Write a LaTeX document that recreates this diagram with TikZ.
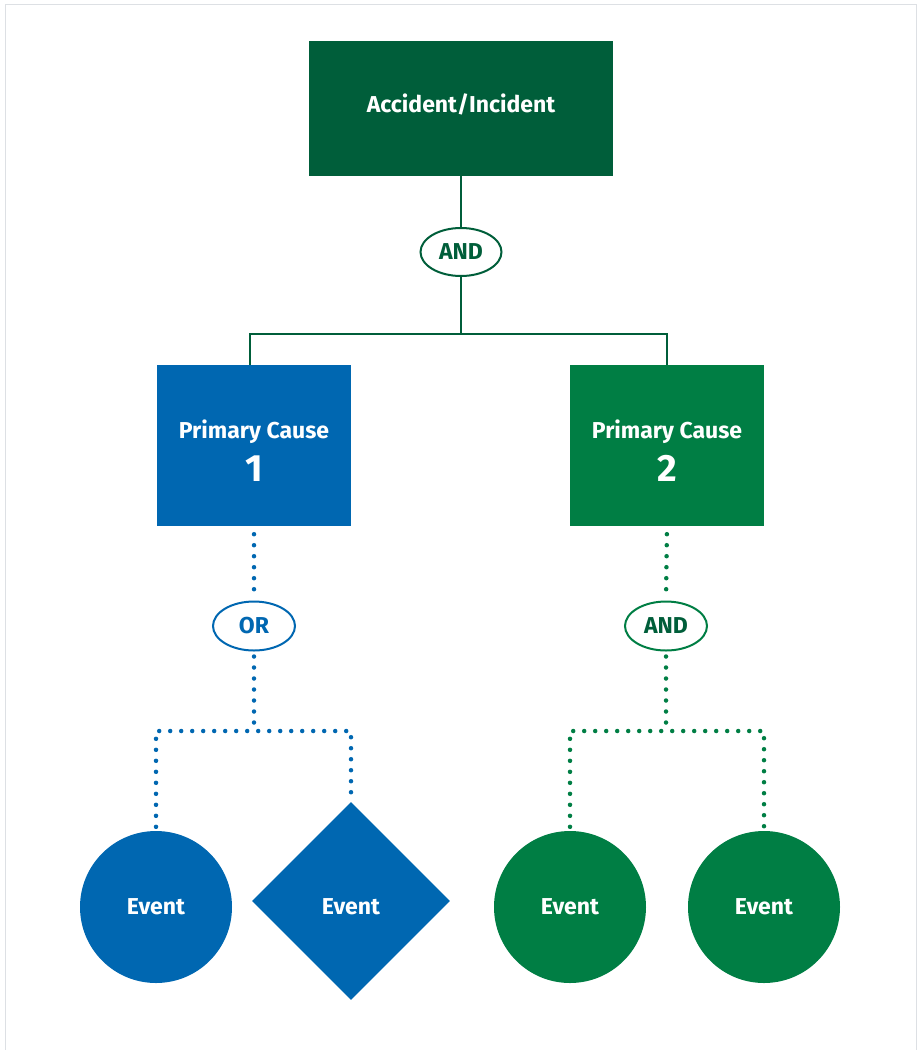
\documentclass[tikz,border=0pt]{standalone}
\usepackage{fontspec}
\setmainfont{Fira Sans}
\usetikzlibrary{shapes.geometric}
\definecolor{darkgreen}{HTML}{005E3A}
\definecolor{causeblue}{HTML}{0067B1}
\definecolor{causegreen}{HTML}{007E44}
\definecolor{framegray}{HTML}{DDE0E4}

\begin{document}
\begin{tikzpicture}[x=1pt,y=-1pt,
  box/.style={rectangle, inner sep=0pt},
  boxtext/.style={anchor=base, inner sep=0pt, text=white, font=\fontsize{23}{26}\selectfont\bfseries},
  bignum/.style={anchor=base, inner sep=0pt, text=white, font=\fontsize{38}{38}\selectfont\bfseries},
  gate/.style={ellipse, draw, fill=white, line width=2pt, minimum width=82pt,
    minimum height=49pt, inner sep=0pt, font=\fontsize{23}{26}\selectfont\bfseries},
  eventtext/.style={text=white, font=\fontsize{23}{26}\selectfont\bfseries},
  event/.style={circle, minimum size=152pt, inner sep=0pt, eventtext},
  solidlink/.style={draw=darkgreen, line width=2pt},
  dotlink/.style={line width=4.5pt, line cap=round, dash pattern=on 0pt off 11pt},
]
\useasboundingbox (0,0) rectangle (921,1050);
% outer frame, open at the bottom
\draw[framegray, line width=1.5pt] (5.5,1060) -- (5.5,4.5) -- (916.5,4.5) -- (916.5,1060);

% top event
\node[box, fill=darkgreen, minimum width=304pt, minimum height=135pt] (top) at (461,108.5) {};
\node[boxtext] (toptext) at (461,112.5) {Accident/Incident};

% primary causes
\node[box, fill=causeblue, minimum width=194pt, minimum height=161pt] (c1) at (254,445.5) {};
\node[boxtext] (c1text) at (254,438) {Primary Cause};
\node[bignum] (c1num) at (254,481.5) {1};
\node[box, fill=causegreen, minimum width=194pt, minimum height=161pt] (c2) at (667,445.5) {};
\node[boxtext] (c2text) at (667,438) {Primary Cause};
\node[bignum] (c2num) at (667,481.5) {2};

% gates
\node[gate, draw=darkgreen, text=darkgreen, minimum width=81pt, minimum height=48pt] (g0) at (461,252) {AND};
\node[gate, draw=causeblue, text=causeblue] (g1) at (254,626) {OR};
\node[gate, draw=causegreen, text=darkgreen] (g2) at (666,626) {AND};

% basic events
\node[event, fill=causeblue] (e1) at (156,907) {Event};
\node[diamond, fill=causeblue, minimum width=198pt, minimum height=198pt,
  inner sep=0pt] (e2) at (351,901) {};
\node[boxtext] (e2text) at (351,914) {Event};
\node[event, fill=causegreen] (e3) at (570,907) {Event};
\node[event, fill=causegreen] (e4) at (764,907) {Event};

% junction points
\coordinate (j0) at (461,334);
\coordinate (j1) at (254,731);
\coordinate (j2) at (666,731);

% solid connectors from the top event
\draw[solidlink] (top.south) -- (g0.north);
\draw[solidlink] (g0.south) -- (j0);
\draw[solidlink] ([xshift=-4pt]c1.north) |- (j0) -| (c2.north);

% dotted connectors, cause 1
\draw[dotlink, causeblue, shorten <=8pt, shorten >=6pt] (c1.south) -- (g1.north);
\draw[dotlink, causeblue, shorten <=5pt] (g1.south) -- (j1);
\draw[dotlink, causeblue, shorten <=4pt, shorten >=5pt]
  (e1.north) -- (e1.north |- j1) -- (e2.north |- j1) -- (e2.north);

% dotted connectors, cause 2
\draw[dotlink, causegreen, shorten <=8pt, shorten >=6pt] (c2.south) -- (g2.north);
\draw[dotlink, causegreen, shorten <=5pt] (g2.south) -- (j2);
\draw[dotlink, causegreen, shorten <=4pt, shorten >=4pt]
  (e3.north) -- (e3.north |- j2) -- (e4.north |- j2) -- (e4.north);
\end{tikzpicture}
\end{document}
